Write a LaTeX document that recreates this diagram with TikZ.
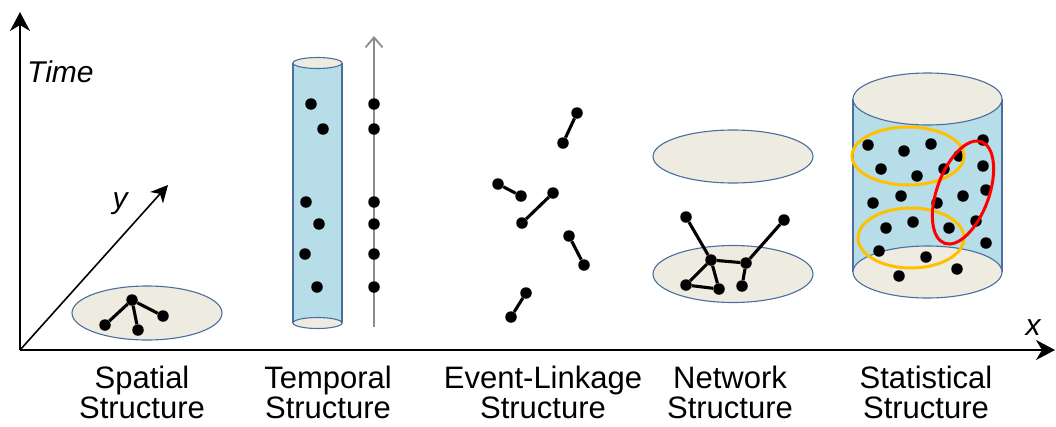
\documentclass[tikz,border=0pt]{standalone}
\usepackage{fontspec}
\setmainfont{Liberation Sans}
\usetikzlibrary{arrows.meta}

\definecolor{cylblue}{HTML}{B7DEE8}
\definecolor{capbeige}{HTML}{EEECE1}
\definecolor{rimblue}{HTML}{4A6E9E}
\definecolor{ringorange}{HTML}{FFC000}
\definecolor{ringred}{HTML}{FF0000}
\definecolor{timegray}{HTML}{8C8C8C}

\tikzset{
  dot/.style={circle, fill=black, inner sep=0pt, minimum size=11.5pt},
  link/.style={line width=3.1pt},
  axisline/.style={line width=1.8pt, -{Stealth[length=19pt, width=20pt, inset=6pt]}},
  rim/.style={draw=rimblue, line width=1.1pt},
  plate/.style={rim, fill=capbeige},
  caption/.style={font=\fontsize{31}{30}\selectfont, align=center, anchor=north, inner sep=0pt},
  axislabel/.style={font=\fontsize{30}{30}\selectfont\itshape, inner sep=0pt},
  ring/.style={line width=3pt},
}

\begin{document}
\begin{tikzpicture}[x=1pt, y=-1pt]
\useasboundingbox (0,0) rectangle (1056,426);

% ---- axes ----
\coordinate (O) at (20,350);
\coordinate (T) at (20,12);
\coordinate (X) at (1055,350);
\coordinate (Y) at (168,185);
\draw[axisline] (O) -- (T);
\draw[axisline] (O) -- (X);
\draw[line width=1.6pt, -{Stealth[length=17pt, width=17pt, inset=5pt]}] (O) -- (Y);
\node[axislabel, anchor=base west] (tlab) at (27,82) {Time};
\node[axislabel, anchor=base] (ylab) at (120,208) {y};
\node[axislabel, anchor=base] (xlab) at (1033,335) {x};

% ---- spatial structure ----
\draw[plate] (147,313) ellipse [x radius=75pt, y radius=27pt];
\node[dot] (s1) at (132,300) {};
\node[dot] (s2) at (105,325) {};
\node[dot] (s3) at (138,330) {};
\node[dot] (s4) at (163,316) {};
\draw[link] (s1) -- (s2);
\draw[link] (s1) -- (s3);
\draw[link] (s1) -- (s4);

% ---- temporal structure ----
\fill[cylblue] (293,63) -- (293,323) arc[start angle=180, end angle=360, x radius=24.5pt, y radius=5.5pt] -- (342,63) -- cycle;
\draw[rim] (293,63) -- (293,323);
\draw[rim] (342,63) -- (342,323);
\draw[plate] (317.5,323) ellipse [x radius=24.5pt, y radius=5.5pt];
\draw[plate] (317.5,63) ellipse [x radius=24.5pt, y radius=5.5pt];
\node[dot] (t1) at (311,104) {};
\node[dot] (t2) at (323,129) {};
\node[dot] (t3) at (306,202) {};
\node[dot] (t4) at (319,224) {};
\node[dot] (t5) at (305,254) {};
\node[dot] (t6) at (317,287) {};

\coordinate (tb) at (374,327);
\coordinate (tt) at (374,36);
\draw[timegray, line width=1.8pt, -{Straight Barb[length=10pt, width=17pt]}] (tb) -- (tt);
\node[dot] (u1) at (374,104) {};
\node[dot] (u2) at (374,129) {};
\node[dot] (u3) at (374,202) {};
\node[dot] (u4) at (374,224) {};
\node[dot] (u5) at (374,254) {};
\node[dot] (u6) at (374,287) {};

% ---- event-linkage structure ----
\node[dot] (e1a) at (577,113) {};
\node[dot] (e1b) at (563,143) {};
\node[dot] (e2a) at (498,184) {};
\node[dot] (e2b) at (521,196) {};
\node[dot] (e3a) at (553,193) {};
\node[dot] (e3b) at (522,223) {};
\node[dot] (e4a) at (569,236) {};
\node[dot] (e4b) at (584,265) {};
\node[dot] (e5a) at (526,293) {};
\node[dot] (e5b) at (511,317) {};
\draw[link] (e1a) -- (e1b);
\draw[link] (e2a) -- (e2b);
\draw[link] (e3a) -- (e3b);
\draw[link] (e4a) -- (e4b);
\draw[link] (e5a) -- (e5b);

% ---- network structure ----
\draw[plate] (733,156.5) ellipse [x radius=80pt, y radius=26.5pt];
\draw[plate] (733,274) ellipse [x radius=80pt, y radius=28.5pt];
\node[dot] (na) at (686,217) {};
\node[dot] (nb) at (784,220) {};
\node[dot] (nc) at (711,260) {};
\node[dot] (nd) at (746,263) {};
\node[dot] (ne) at (686,285) {};
\node[dot] (nf) at (719,289) {};
\node[dot] (ng) at (742,286) {};
\draw[link] (na) -- (nc);
\draw[link] (nc) -- (ne);
\draw[link] (nc) -- (nf);
\draw[link] (ne) -- (nf);
\draw[link] (nc) -- (nd);
\draw[link] (nd) -- (nb);
\draw[link] (nd) -- (ng);

% ---- statistical structure ----
\fill[cylblue] (853,99) -- (853,272) arc[start angle=180, end angle=360, x radius=74.5pt, y radius=26pt] -- (1002,99) -- cycle;
\draw[rim] (853,99) -- (853,272);
\draw[rim] (1002,99) -- (1002,272);
\draw[plate] (927.5,272) ellipse [x radius=74.5pt, y radius=26pt];
\draw[plate] (927.5,99) ellipse [x radius=74.5pt, y radius=26pt];
\foreach \px/\py [count=\i] in {868/145, 904/151, 931/144, 983/140, 959/156,
    881/169, 917/176, 944/169, 983/166, 873/203, 901/196, 937/203, 963/196,
    986/190, 886/228, 913/222, 949/228, 976/221, 879/251, 926/257, 986/243,
    899/276, 957/269}
  \node[dot] (st\i) at (\px,\py) {};
\draw[ring, ringorange] (908,156) ellipse [x radius=56pt, y radius=29pt];
\draw[ring, ringorange] (911,238) ellipse [x radius=53pt, y radius=30pt];
\draw[ring, ringred, rotate around={-20:(963,192.5)}] (963,192.5) ellipse [x radius=26pt, y radius=54pt];

% ---- captions ----
\node[caption] (c1) at (142,366) {Spatial\\Structure};
\node[caption] (c2) at (328,366) {Temporal\\Structure};
\node[caption] (c3) at (543,366) {Event-Linkage\\Structure};
\node[caption] (c4) at (730,366) {Network\\Structure};
\node[caption] (c5) at (926,366) {Statistical\\Structure};
\end{tikzpicture}
\end{document}
